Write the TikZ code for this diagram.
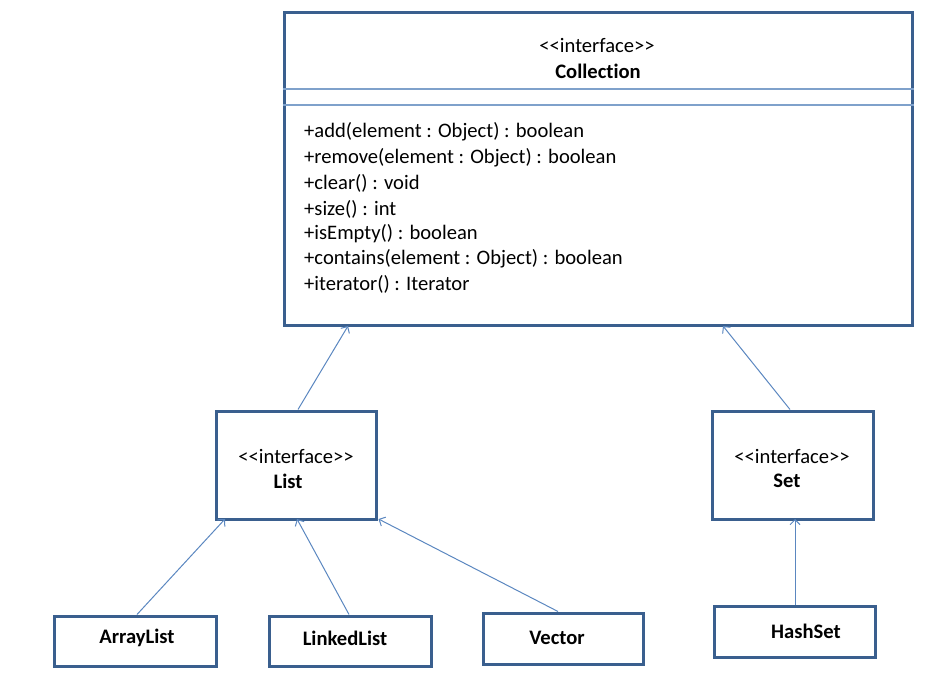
\documentclass[tikz,border=0pt]{standalone}
\usepackage{fontspec}
\setmainfont[Ligatures=NoCommon]{Carlito}
\usetikzlibrary{arrows.meta}
\definecolor{boxblue}{HTML}{3A5F8E}
\definecolor{linkblue}{HTML}{5B87C0}
\definecolor{sepblue}{HTML}{7FA1CB}
\newcommand{\stereo}{<{}<interface>{}>}
\tikzset{
  umlbox/.style={draw=boxblue, line width=3pt, fill=white, inner sep=0pt},
  txt/.style={inner sep=0pt, font=\fontsize{20.6}{24}\selectfont},
  btxt/.style={inner sep=0pt, font=\fontsize{20.6}{24}\selectfont\bfseries},
  inh/.style={draw=linkblue, line width=1pt, -{Straight Barb[length=5pt,width=10pt,line width=1pt]}},
}
\begin{document}
\begin{tikzpicture}[x=1pt,y=-1pt]
\useasboundingbox (0,0) rectangle (938,679);
% Collection
\node[umlbox, minimum width=628pt, minimum height=313pt] (coll) at (598,169.5) {};
\draw[sepblue, line width=1.5pt] (coll.west |- 0,89) coordinate (s1a) -- (coll.east |- 0,89) coordinate (s1b);
\draw[sepblue, line width=1.5pt] (coll.west |- 0,105) coordinate (s2a) -- (coll.east |- 0,105) coordinate (s2b);
\node[txt] (cst) at (597,45) {\stereo};
\node[btxt] (cname) at (598,71) {Collection};
\node[txt, anchor=west] (m1) at (304,132) {+add(element : Object) : boolean};
\node[txt, anchor=west] (m2) at (304,158) {+remove(element : Object) : boolean};
\node[txt, anchor=west] (m3) at (304,183) {+clear() : void};
\node[txt, anchor=west] (m4) at (304,209) {+size() : int};
\node[txt, anchor=west] (m5) at (304,234) {+isEmpty() : boolean};
\node[txt, anchor=west] (m6) at (304,259) {+contains(element : Object) : boolean};
\node[txt, anchor=west] (m7) at (304,284) {+iterator() : Iterator};
% List
\node[umlbox, minimum width=160pt, minimum height=108pt] (list) at (296,465) {};
\node[txt] (lst) at (296,456) {\stereo};
\node[btxt] (lname) at (288,481) {List};
% Set
\node[umlbox, minimum width=161pt, minimum height=108pt] (set) at (792.5,465) {};
\node[txt] (sst) at (792,456) {\stereo};
\node[btxt] (sname) at (787,481) {Set};
% Leaves
\node[umlbox, minimum width=162pt, minimum height=50pt] (al) at (135,641) {};
\node[btxt] (alt) at (137,638) {ArrayList};
\node[umlbox, minimum width=162pt, minimum height=50pt] (ll) at (350,641) {};
\node[btxt] (llt) at (345,638) {LinkedList};
\node[umlbox, minimum width=160pt, minimum height=51pt] (vec) at (563,638.5) {};
\node[btxt] (vect) at (557,638) {Vector};
\node[umlbox, minimum width=161pt, minimum height=51pt] (hs) at (794.5,631.5) {};
\node[btxt] (hst) at (806,631) {HashSet};
% Connectors
\draw[inh] ([xshift=2pt]list.north) -- ([xshift=-250pt,yshift=1.5pt]coll.south);
\draw[inh] ([xshift=-2.5pt]set.north) -- ([xshift=125pt,yshift=1.5pt]coll.south);
\draw[inh] ([xshift=2pt]al.north) -- ([xshift=-71pt,yshift=1.5pt]list.south);
\draw[inh] ([xshift=-1pt]ll.north) -- ([xshift=1pt,yshift=1.5pt]list.south);
\draw[inh] ([xshift=-5pt]vec.north) -- ([xshift=1pt,yshift=1.5pt]list.south east);
\draw[inh] ([xshift=0.5pt]hs.north) -- ([xshift=2.5pt,yshift=1.5pt]set.south);
\end{tikzpicture}
\end{document}
